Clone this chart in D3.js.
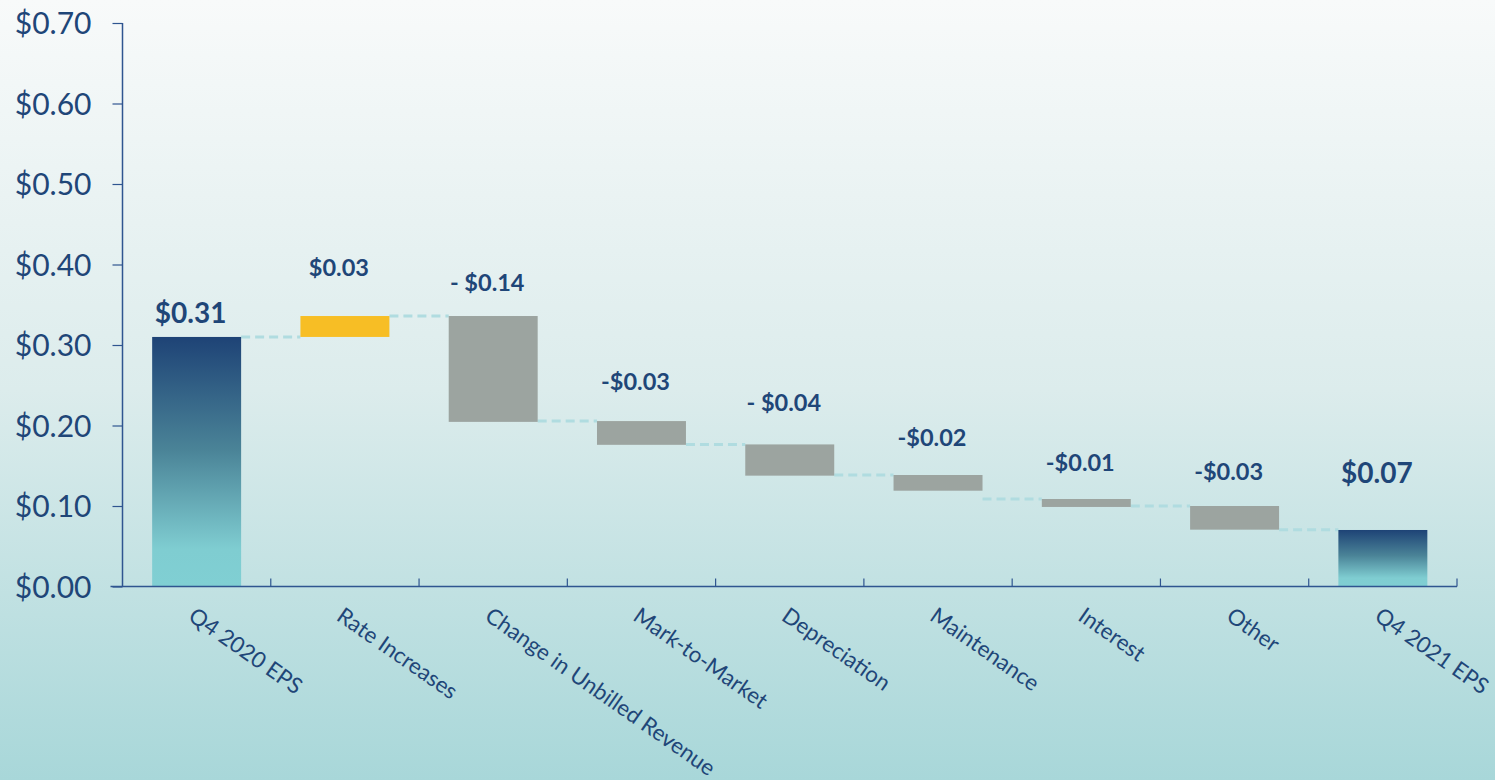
<!DOCTYPE html>
<html>
<head>
<meta charset="utf-8">
<script src="https://cdn.jsdelivr.net/npm/d3@7/dist/d3.min.js"></script>
<style>
html, body { margin: 0; padding: 0; overflow: hidden; }
svg { display: block; }
</style>
</head>
<body>
<script>
// ---- data ----
const categories = ["Q4 2020 EPS", "Rate Increases", "Change in Unbilled Revenue", "Mark-to-Market",
  "Depreciation", "Maintenance", "Interest", "Other", "Q4 2021 EPS"];
const barStart = [0, 0.31, 0.336, 0.2055, 0.1765, 0.1385, 0.1087, 0.1000, 0];
const barEnd   = [0.31, 0.336, 0.2045, 0.176, 0.1377, 0.119, 0.0988, 0.0706, 0.0702];
const barKind  = ["total", "up", "down", "down", "down", "down", "down", "down", "total"];
const valueLabels = ["$0.31", "$0.03", "- $0.14", "-$0.03", "- $0.04", "-$0.02", "-$0.01", "-$0.03", "$0.07"];
const yTicks = [0, 0.1, 0.2, 0.3, 0.4, 0.5, 0.6, 0.7];

// ---- layout ----
const W = 1495, H = 780;
const M = { left: 122.5, right: 1457, top: 23, bottom: 586.5 };
const labelLift = [24, 48, 33, 39, 42, 37, 36, 34, 57];
const navy = "#1f4678";
const font = "Lato, 'Open Sans', sans-serif";

const svg = d3.select("body").append("svg").attr("width", W).attr("height", H);
const defs = svg.append("defs");
const bg = defs.append("linearGradient").attr("id", "bg").attr("x1", 0).attr("y1", 0).attr("x2", 0).attr("y2", 1);
bg.append("stop").attr("offset", "0%").attr("stop-color", "#f8fafa");
bg.append("stop").attr("offset", "50%").attr("stop-color", "#dcecec");
bg.append("stop").attr("offset", "100%").attr("stop-color", "#a8d7d9");
const tg = defs.append("linearGradient").attr("id", "tot").attr("x1", 0).attr("y1", 0).attr("x2", 0).attr("y2", 1);
tg.append("stop").attr("offset", "0%").attr("stop-color", "#1e4376");
tg.append("stop").attr("offset", "45%").attr("stop-color", "#4a8397");
tg.append("stop").attr("offset", "85%").attr("stop-color", "#7fcdd1");
tg.append("stop").attr("offset", "100%").attr("stop-color", "#80cfd3");

svg.append("rect").attr("width", W).attr("height", H).attr("fill", "url(#bg)");

const x = d3.scaleBand().domain(categories).range([M.left, M.right]).paddingInner(0.4).paddingOuter(0.2);
const y = d3.scaleLinear().domain([0, 0.7]).range([M.bottom, M.top]);

// connectors
const conn = [];
for (let i = 0; i < categories.length - 1; i++) {
  const lvl = barKind[i + 1] === "total" ? barEnd[i] : barStart[i + 1];
  conn.push({ x1: x(categories[i]) + x.bandwidth(), x2: x(categories[i + 1]), v: lvl });
}
svg.append("g").selectAll("line").data(conn).join("line")
  .attr("x1", d => d.x1).attr("x2", d => d.x2)
  .attr("y1", d => y(d.v)).attr("y2", d => y(d.v))
  .attr("stroke", "#b0dce0").attr("stroke-width", 3).attr("stroke-dasharray", "9,5");

// bars
const colorOf = k => k === "total" ? "url(#tot)" : (k === "up" ? "#f7be25" : "#9ca4a0");
svg.append("g").selectAll("rect").data(categories).join("rect")
  .attr("x", d => x(d))
  .attr("width", x.bandwidth())
  .attr("y", (d, i) => y(Math.max(barStart[i], barEnd[i])))
  .attr("height", (d, i) => Math.abs(y(barStart[i]) - y(barEnd[i])))
  .attr("fill", (d, i) => colorOf(barKind[i]));

// axes
const yAxis = svg.append("g").attr("transform", `translate(${M.left},0)`)
  .call(d3.axisLeft(y).tickValues(yTicks).tickFormat(d => "$" + d.toFixed(2)).tickSize(10).tickPadding(21));
yAxis.select(".domain").attr("stroke", "#2f5590").attr("stroke-width", 1.5).attr("d", `M-0,${M.top}V${M.bottom}`);
yAxis.selectAll(".tick line").attr("stroke", "#2f5590").attr("stroke-width", 1.2);
yAxis.selectAll(".tick text").attr("fill", navy).attr("font-family", font)
  .attr("font-size", 30).attr("dy", "0.35em");

const xg = svg.append("g");
xg.append("line").attr("x1", M.left - 12).attr("x2", M.right).attr("y1", M.bottom).attr("y2", M.bottom)
  .attr("stroke", "#2f5590").attr("stroke-width", 1.5);
const step = (M.right - M.left) / categories.length;
xg.selectAll("line.tk").data(d3.range(1, categories.length + 1)).join("line").attr("class", "tk")
  .attr("x1", i => M.left + i * step).attr("x2", i => M.left + i * step)
  .attr("y1", M.bottom).attr("y2", M.bottom - 8)
  .attr("stroke", "#2f5590").attr("stroke-width", 1.2);

xg.selectAll("text").data(categories).join("text")
  .attr("transform", d => `translate(${x(d) + x.bandwidth() / 2},${M.bottom + 19}) rotate(35)`)
  .attr("dy", "0.75em")
  .attr("text-anchor", "start")
  .attr("fill", navy).attr("font-family", font).attr("font-size", 22.3)
  .text(d => d);

// value labels
svg.append("g").selectAll("text").data(valueLabels).join("text")
  .attr("x", (d, i) => x(categories[i]) + x.bandwidth() / 2 - 6)
  .attr("y", (d, i) => y(Math.max(barStart[i], barEnd[i])) - labelLift[i])
  .attr("dy", "0.35em")
  .attr("text-anchor", "middle")
  .attr("fill", navy).attr("font-weight", "bold").attr("font-family", font)
  .attr("font-size", (d, i) => barKind[i] === "total" ? 28 : 23.5)
  .text(d => d);
</script>
</body>
</html>
